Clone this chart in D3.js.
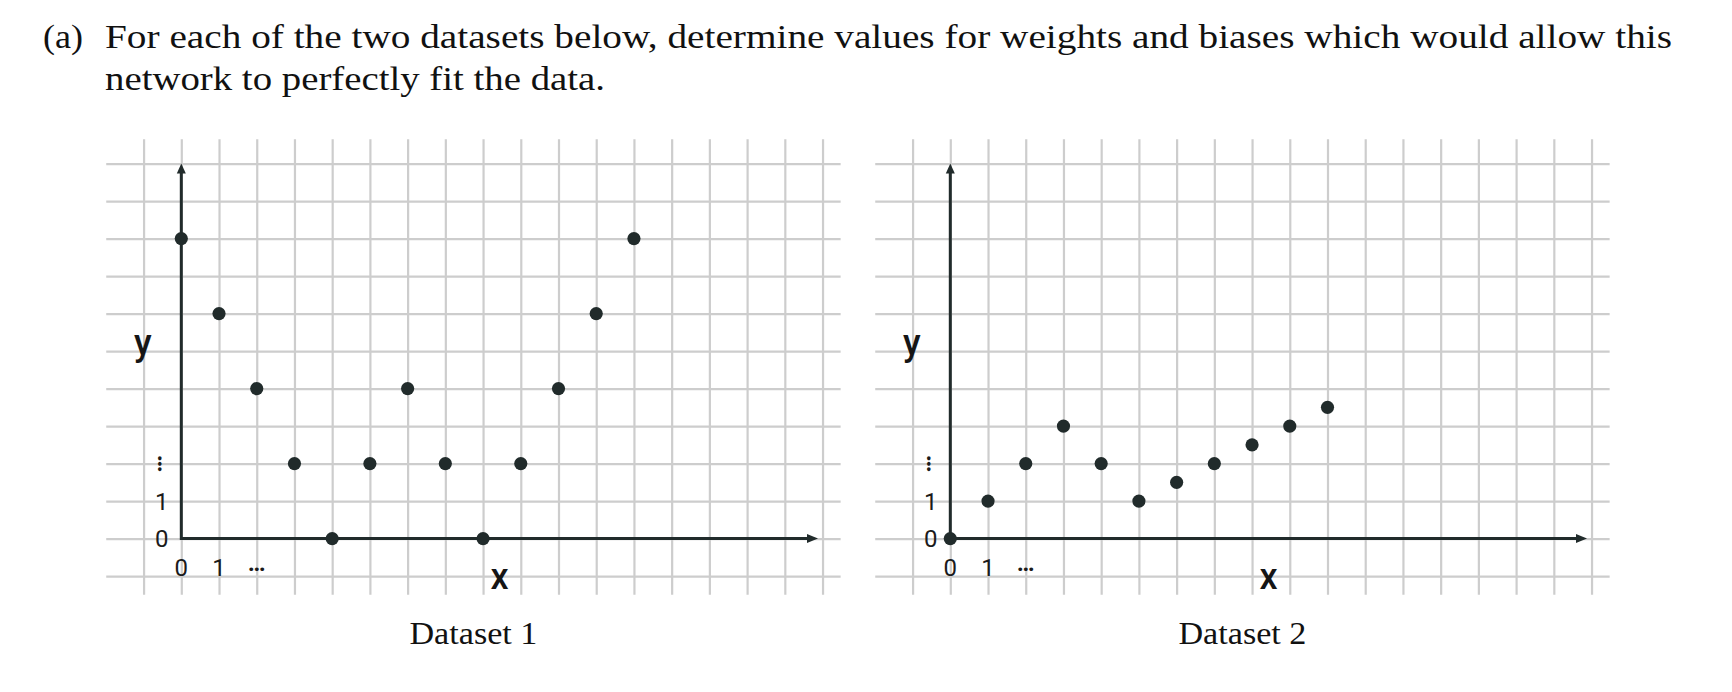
<!DOCTYPE html>
<html>
<head>
<meta charset="utf-8">
<script src="https://cdn.jsdelivr.net/npm/d3@7"></script>
<style>
  html, body { margin: 0; padding: 0; background: #ffffff; }
  svg { display: block; }
</style>
</head>
<body>
<svg id="chart" width="1732" height="692"></svg>
<script>
// ---------- data ----------
const titleLines = [
  "For each of the two datasets below, determine values for weights and biases which would allow this",
  "network to perfectly fit the data."
];
const titleLabel = "(a)";
const panelNames = ["Dataset 1", "Dataset 2"];
const xValues1 = [0, 1, 2, 3, 4, 5, 6, 7, 8, 9, 10, 11, 12];
const yValues1 = [8, 6, 4, 2, 0, 2, 4, 2, 0, 2, 4, 6, 8];
const xValues2 = [0, 1, 2, 3, 4, 5, 6, 7, 8, 9, 10];
const yValues2 = [0, 1, 2, 3, 2, 1, 1.5, 2, 2.5, 3, 3.5];
const xTickLabels = ["0", "1", "…"];
const yTickLabels = ["0", "1", "…"];
const gridXValues = d3.range(-1, 18);
const gridYValues = d3.range(-1, 11);
const axisLabels = ["x", "y"];

// ---------- layout ----------
const svg = d3.select("#chart");
const cell = 37.72, cellY = 37.5;
const panels = [
  { ox: 181.3, name: panelNames[0], xs: xValues1, ys: yValues1 },
  { ox: 950.3, name: panelNames[1], xs: xValues2, ys: yValues2 }
];
const oy = 538.6;
const gridColor = "#cdcdcd";
const ink = "#212b2b";
const serif = "'Liberation Serif', 'Times New Roman', serif";

// title
const title = svg.append("g").attr("font-family", serif)
  .attr("font-size", 34).attr("fill", "#111");
title.append("text").attr("x", 43).attr("y", 47.5)
  .attr("textLength", 40).attr("lengthAdjust", "spacingAndGlyphs").text(titleLabel);
title.append("text").attr("x", 105).attr("y", 47.5)
  .attr("textLength", 1567).attr("lengthAdjust", "spacingAndGlyphs").text(titleLines[0]);
title.append("text").attr("x", 105).attr("y", 89.5)
  .attr("textLength", 500).attr("lengthAdjust", "spacingAndGlyphs").text(titleLines[1]);

panels.forEach(p => {
  const x = d3.scaleLinear().domain([0, 1]).range([p.ox, p.ox + cell]);
  const y = d3.scaleLinear().domain([0, 1]).range([oy, oy - cellY]);
  const left = x(-1.99), right = x(17.48), top = y(10.65), bottom = y(-1.5);
  const g = svg.append("g");

  // vertical grid via axis
  const gv = g.append("g").attr("transform", `translate(0,${bottom})`)
    .call(d3.axisBottom(x).tickValues(gridXValues).tickSize(-(bottom - top)).tickFormat(""));
  gv.select(".domain").remove();
  gv.selectAll(".tick line").attr("stroke", gridColor).attr("stroke-width", 2.2);

  // horizontal grid via axis
  const gh = g.append("g").attr("transform", `translate(${left},0)`)
    .call(d3.axisLeft(y).tickValues(gridYValues).tickSize(-(right - left)).tickFormat(""));
  gh.select(".domain").remove();
  gh.selectAll(".tick line").attr("stroke", gridColor).attr("stroke-width", 2.2);

  // axes with arrowheads
  const xTip = x(16.88), yTip = y(10);
  g.append("line").attr("x1", x(0)).attr("x2", xTip - 6).attr("y1", y(0)).attr("y2", y(0))
    .attr("stroke", ink).attr("stroke-width", 3);
  g.append("path").attr("d", `M${xTip},${y(0)} L${xTip - 11},${y(0) - 4.5} L${xTip - 11},${y(0) + 4.5} Z`).attr("fill", ink);
  g.append("line").attr("x1", x(0)).attr("x2", x(0)).attr("y1", y(0) + 1.5).attr("y2", yTip + 6)
    .attr("stroke", ink).attr("stroke-width", 3);
  g.append("path").attr("d", `M${x(0)},${yTip} L${x(0) - 4.5},${yTip + 10} L${x(0) + 4.5},${yTip + 10} Z`).attr("fill", ink);

  // tick labels
  const tl = g.append("g").attr("font-family", "Roboto, 'Open Sans', sans-serif").attr("fill", "#1b1b1b")
    .attr("font-size", 24).attr("text-anchor", "middle");
  xTickLabels.forEach((t, i) => {
    if (t === "…") {
      tl.append("text").attr("x", x(i)).attr("y", 571).attr("font-weight", 700).text(t);
    } else {
      tl.append("text").attr("x", x(i)).attr("y", 576).text(t);
    }
  });
  yTickLabels.forEach((t, i) => {
    if (t === "…") {
      tl.append("text").attr("font-weight", 700)
        .attr("transform", `translate(${x(0) - 19.5},${y(i)}) rotate(90)`)
        .attr("x", 0).attr("y", 4).text(t);
    } else {
      tl.append("text").attr("x", x(0) - 19.5).attr("y", y(i) + 8.5).text(t);
    }
  });

  // axis labels
  const al = g.append("g").attr("font-family", "Roboto, 'Open Sans', sans-serif").attr("fill", "#151515")
    .attr("font-size", 36).attr("font-weight", 500).attr("text-anchor", "middle");
  al.append("text").attr("x", x(8.44)).attr("y", y(-1.35)).text(axisLabels[0]);
  al.append("text").attr("x", x(-1.02)).attr("y", y(4.9)).text(axisLabels[1]);

  // points
  g.append("g").selectAll("circle").data(p.xs.map((v, i) => [v, p.ys[i]])).join("circle")
    .attr("cx", d => x(d[0])).attr("cy", d => y(d[1])).attr("r", 6.6).attr("fill", ink);

  // caption
  svg.append("text").attr("x", (left + right) / 2 - 64).attr("y", 644)
    .attr("font-family", serif).attr("textLength", 128).attr("lengthAdjust", "spacingAndGlyphs")
    .attr("font-size", 31).attr("fill", "#111").text(p.name);
});
</script>
</body>
</html>
